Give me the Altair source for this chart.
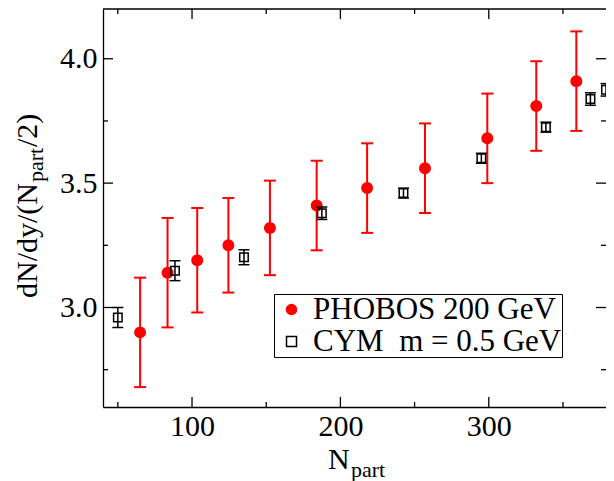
import altair as alt
import pandas as pd

# ---- data ----
phobos_npart = [65, 83.5, 103.5, 124.5, 152.5, 184, 218, 257, 299, 332, 359]
phobos_val = [2.90, 3.14, 3.19, 3.25, 3.32, 3.41, 3.48, 3.56, 3.68, 3.81, 3.91]
phobos_err = [0.22, 0.22, 0.21, 0.19, 0.19, 0.18, 0.18, 0.18, 0.18, 0.18, 0.20]

cym_npart = [50, 88.5, 135, 187.5, 242.5, 295, 338.5, 368.5, 379]
cym_val = [2.96, 3.148, 3.202, 3.379, 3.46, 3.60, 3.725, 3.838, 3.875]
cym_err = [0.04, 0.04, 0.03, 0.025, 0.02, 0.02, 0.02, 0.025, 0.025]

series = ["PHOBOS 200 GeV", "CYM \u00a0m = 0.5 GeV"]

x_major = [100, 200, 300]
x_minor = [50, 150, 250, 350]
y_major = [3.0, 3.5, 4.0]
y_minor = [2.75, 3.25, 3.75]

W, H = 503, 398
FONT = "Liberation Serif"


def frame(xs_, ys_, es_, name):
    return pd.DataFrame({
        "x": xs_, "y": ys_,
        "lo": [v - e for v, e in zip(ys_, es_)],
        "hi": [v + e for v, e in zip(ys_, es_)],
        "s": name,
    })


ph = frame(phobos_npart, phobos_val, phobos_err, series[0])
cy = frame(cym_npart, cym_val, cym_err, series[1])

xs = alt.Scale(domain=[40, 379], nice=False, zero=False)
ys = alt.Scale(domain=[2.6, 4.2], nice=False, zero=False)

xaxis = alt.Axis(values=x_major, format="d", title=None, ticks=False, tickSize=0,
                 labelPadding=4, labelFont=FONT, labelFontSize=30, labelColor="black",
                 domainColor="black", domainWidth=1.3, grid=False)
yaxis = alt.Axis(values=y_major, format=".1f", title=None, ticks=False, tickSize=0,
                 labelPadding=6, labelFont=FONT, labelFontSize=30, labelColor="black",
                 domainColor="black", domainWidth=1.3, grid=False)


def X(f):
    return alt.X(f"{f}:Q", scale=xs, axis=xaxis)


def Y(f):
    return alt.Y(f"{f}:Q", scale=ys, axis=yaxis)


# error bars
red_bars = alt.Chart(ph).mark_rule(color="#ff0000", strokeWidth=2).encode(
    x=X("x"), y=Y("lo"), y2="hi")
red_cap_lo = alt.Chart(ph).mark_tick(color="#ff0000", orient="horizontal", size=12,
                                     thickness=2, opacity=1).encode(x=X("x"), y=Y("lo"))
red_cap_hi = alt.Chart(ph).mark_tick(color="#ff0000", orient="horizontal", size=12,
                                     thickness=2, opacity=1).encode(x=X("x"), y=Y("hi"))

blk_bars = alt.Chart(cy).mark_rule(color="black", strokeWidth=1.5).encode(
    x=X("x"), y=Y("lo"), y2="hi")
blk_cap_lo = alt.Chart(cy).mark_tick(color="black", orient="horizontal", size=11,
                                     thickness=1.5, opacity=1).encode(x=X("x"), y=Y("lo"))
blk_cap_hi = alt.Chart(cy).mark_tick(color="black", orient="horizontal", size=11,
                                     thickness=1.5, opacity=1).encode(x=X("x"), y=Y("hi"))

leg = alt.Legend(title=None, orient="none", legendX=171, legendY=285,
                 labelFont=FONT, labelFontSize=31, labelColor="black",
                 strokeColor="black", fillColor="white", padding=0,
                 symbolOffset=2, labelOffset=6, rowPadding=0, labelLimit=0,
                 symbolStrokeWidth=1.5, symbolSize=100)

shape_s = alt.Scale(domain=series, range=["circle", "square"])
fill_s = alt.Scale(domain=series, range=["#ff0000", "transparent"])
stroke_s = alt.Scale(domain=series, range=["#ff0000", "black"])


def pt_layer(df, size):
    return alt.Chart(df).mark_point(filled=True, opacity=1, strokeWidth=1.5, size=size).encode(
        x=X("x"), y=Y("y"),
        shape=alt.Shape("s:N", scale=shape_s, legend=leg),
        fill=alt.Fill("s:N", scale=fill_s, legend=leg),
        stroke=alt.Stroke("s:N", scale=stroke_s, legend=leg),
    )


red_pts = pt_layer(ph, 110)
blk_pts = pt_layer(cy, 72)

# inward ticks
xM = pd.DataFrame({"v": x_major})
xm = pd.DataFrame({"v": x_minor})
yM = pd.DataFrame({"v": y_major})
ym = pd.DataFrame({"v": y_minor})
tk = dict(color="black", strokeWidth=1.3)

ticks = [
    alt.Chart(xM).mark_rule(**tk).encode(x=X("v"), y=alt.value(H), y2=alt.value(H - 10)),
    alt.Chart(xm).mark_rule(**tk).encode(x=X("v"), y=alt.value(H), y2=alt.value(H - 5)),
    alt.Chart(xM).mark_rule(**tk).encode(x=X("v"), y=alt.value(0), y2=alt.value(10)),
    alt.Chart(xm).mark_rule(**tk).encode(x=X("v"), y=alt.value(0), y2=alt.value(5)),
    alt.Chart(yM).mark_rule(**tk).encode(y=Y("v"), x=alt.value(0), x2=alt.value(10)),
    alt.Chart(ym).mark_rule(**tk).encode(y=Y("v"), x=alt.value(0), x2=alt.value(5)),
    alt.Chart(yM).mark_rule(**tk).encode(y=Y("v"), x=alt.value(W - 10), x2=alt.value(W)),
    alt.Chart(ym).mark_rule(**tk).encode(y=Y("v"), x=alt.value(W - 5), x2=alt.value(W)),
]

one = pd.DataFrame({"k": [0]})
top_border = alt.Chart(one).mark_rule(color="black", strokeWidth=1.3).encode(
    x=alt.value(0), x2=alt.value(W), y=alt.value(0))


def txt(t, x, y, size, angle=0):
    kw = dict(font=FONT, fontSize=size, color="black", align="left", baseline="alphabetic")
    if angle:
        kw["angle"] = angle
    return alt.Chart(one).mark_text(**kw).encode(
        text=alt.value(t), x=alt.value(x), y=alt.value(y))


titles = [
    txt("dN/dy/(N", -66, 289, 30, 270),
    txt("part", -60, 173, 22, 270),
    txt("/2)", -66, 138, 30, 270),
    txt("N", 225, 460, 30),
    txt("part", 248, 468, 22),
]

chart = alt.layer(
    red_bars, red_cap_lo, red_cap_hi, red_pts, blk_pts, blk_bars, blk_cap_lo, blk_cap_hi,
    *ticks, top_border, *titles
).properties(
    width=W, height=H,
    padding={"left": 95, "top": 1, "right": 0, "bottom": 74},
    autosize=alt.AutoSizeParams(type="none"),
).configure(font=FONT).configure_view(stroke=None).configure_axis(
    labelFont=FONT, labelFontSize=30
).configure_legend(labelFont=FONT, labelFontSize=31)

chart.save("out.html", embed_options={"renderer": "svg", "actions": False})
